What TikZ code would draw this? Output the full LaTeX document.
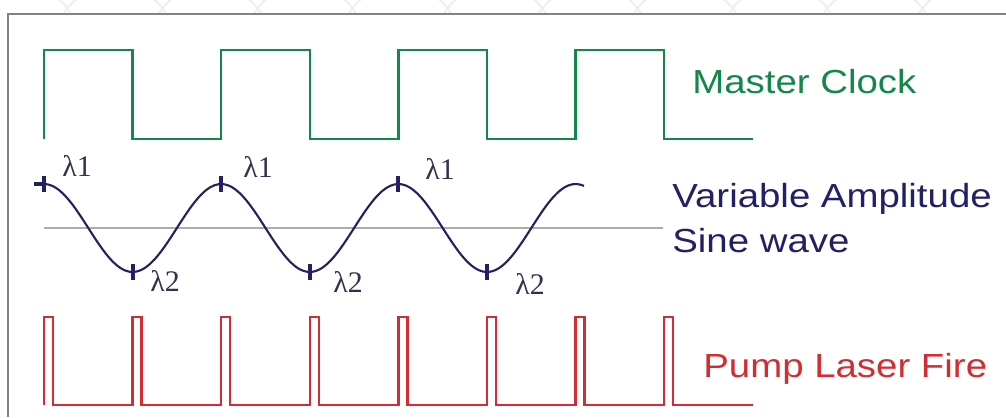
\documentclass[tikz,border=0pt]{standalone}
\usepackage{fontspec}
\usepackage{xcolor}
\usepackage{tikz}
\newfontfamily\labelfont[FakeStretch=1.15]{Liberation Sans}
\newfontfamily\greekfont{Liberation Serif}
\definecolor{clockgreen}{RGB}{20,135,75}
\definecolor{sinenavy}{RGB}{35,32,100}
\definecolor{pumpred}{RGB}{210,45,50}
\definecolor{framegray}{RGB}{130,130,130}
\definecolor{lamgray}{RGB}{50,50,80}

\begin{document}
\begin{tikzpicture}[x=0.2mm,y=-0.2mm,
  clock/.style={draw=clockgreen,line width=1.3pt},
  sine/.style={draw=sinenavy,line width=1.2pt},
  pulse/.style={draw=pumpred,line width=1.3pt},
  tickmark/.style={draw=sinenavy,line width=2.2pt},
  axis/.style={draw=gray!65,line width=0.8pt},
  lab/.style={font=\labelfont\fontsize{19}{25.6}\selectfont,inner sep=0pt,anchor=base west,align=left},
  lam/.style={font=\greekfont\fontsize{17}{20}\selectfont,text=lamgray,inner sep=0pt,anchor=base west}]
  \path[fill=white,use as bounding box] (0,0) rectangle (1006,417);
  \begin{scope}
    \clip (0,0) rectangle (1006,13);
    \foreach \cx in {20,115,210,305,400,495,590,685,780,875,970}
      \draw[gray!12,line width=1.2pt] (\cx,45) circle[radius=60];
  \end{scope}
  \draw[draw=framegray,line width=0.9pt] (8,417) -- (8,14) -- (1006,14);

  \draw[clock] (44,139) \foreach \k in {1,...,4} {-- ++(0,-89) -- ++(88.6,0) -- ++(0,89) -- ++(88.6,0)};
  \node[lab,text=clockgreen] (clk) at (692,93) {Master Clock};

  \draw[axis] (44,228) -- (663,228);
  \draw[sine] plot[domain=44:584,samples=140,smooth] (\x,{228-44*cos(2.0316*(\x-44))});
  \draw[tickmark] (34,184) -- (44,184) (44,176) -- (44,192);
  \draw[tickmark] (221.2,176) -- (221.2,192);
  \draw[tickmark] (398.4,176) -- (398.4,192);
  \draw[tickmark] (132.6,264) -- (132.6,280);
  \draw[tickmark] (309.8,264) -- (309.8,280);
  \draw[tickmark] (487,264) -- (487,280);
  \node[lam] (top1) at (62,176) {λ1};
  \node[lam] (top2) at (243,177) {λ1};
  \node[lam] (top3) at (425,179) {λ1};
  \node[lam] (low1) at (150,291) {λ2};
  \node[lam] (low2) at (333,292) {λ2};
  \node[lam] (low3) at (515,294) {λ2};
  \node[lab,text=sinenavy] (sinewave) at (672,252) {Variable Amplitude\\Sine wave};

  \draw[pulse] (44,405) \foreach \k in {1,...,8} {-- ++(0,-88) -- ++(9,0) -- ++(0,88) -- ++(79.6,0)};
  \node[lab,text=pumpred] (pump) at (703,377) {Pump Laser Fire};
\end{tikzpicture}
\end{document}
